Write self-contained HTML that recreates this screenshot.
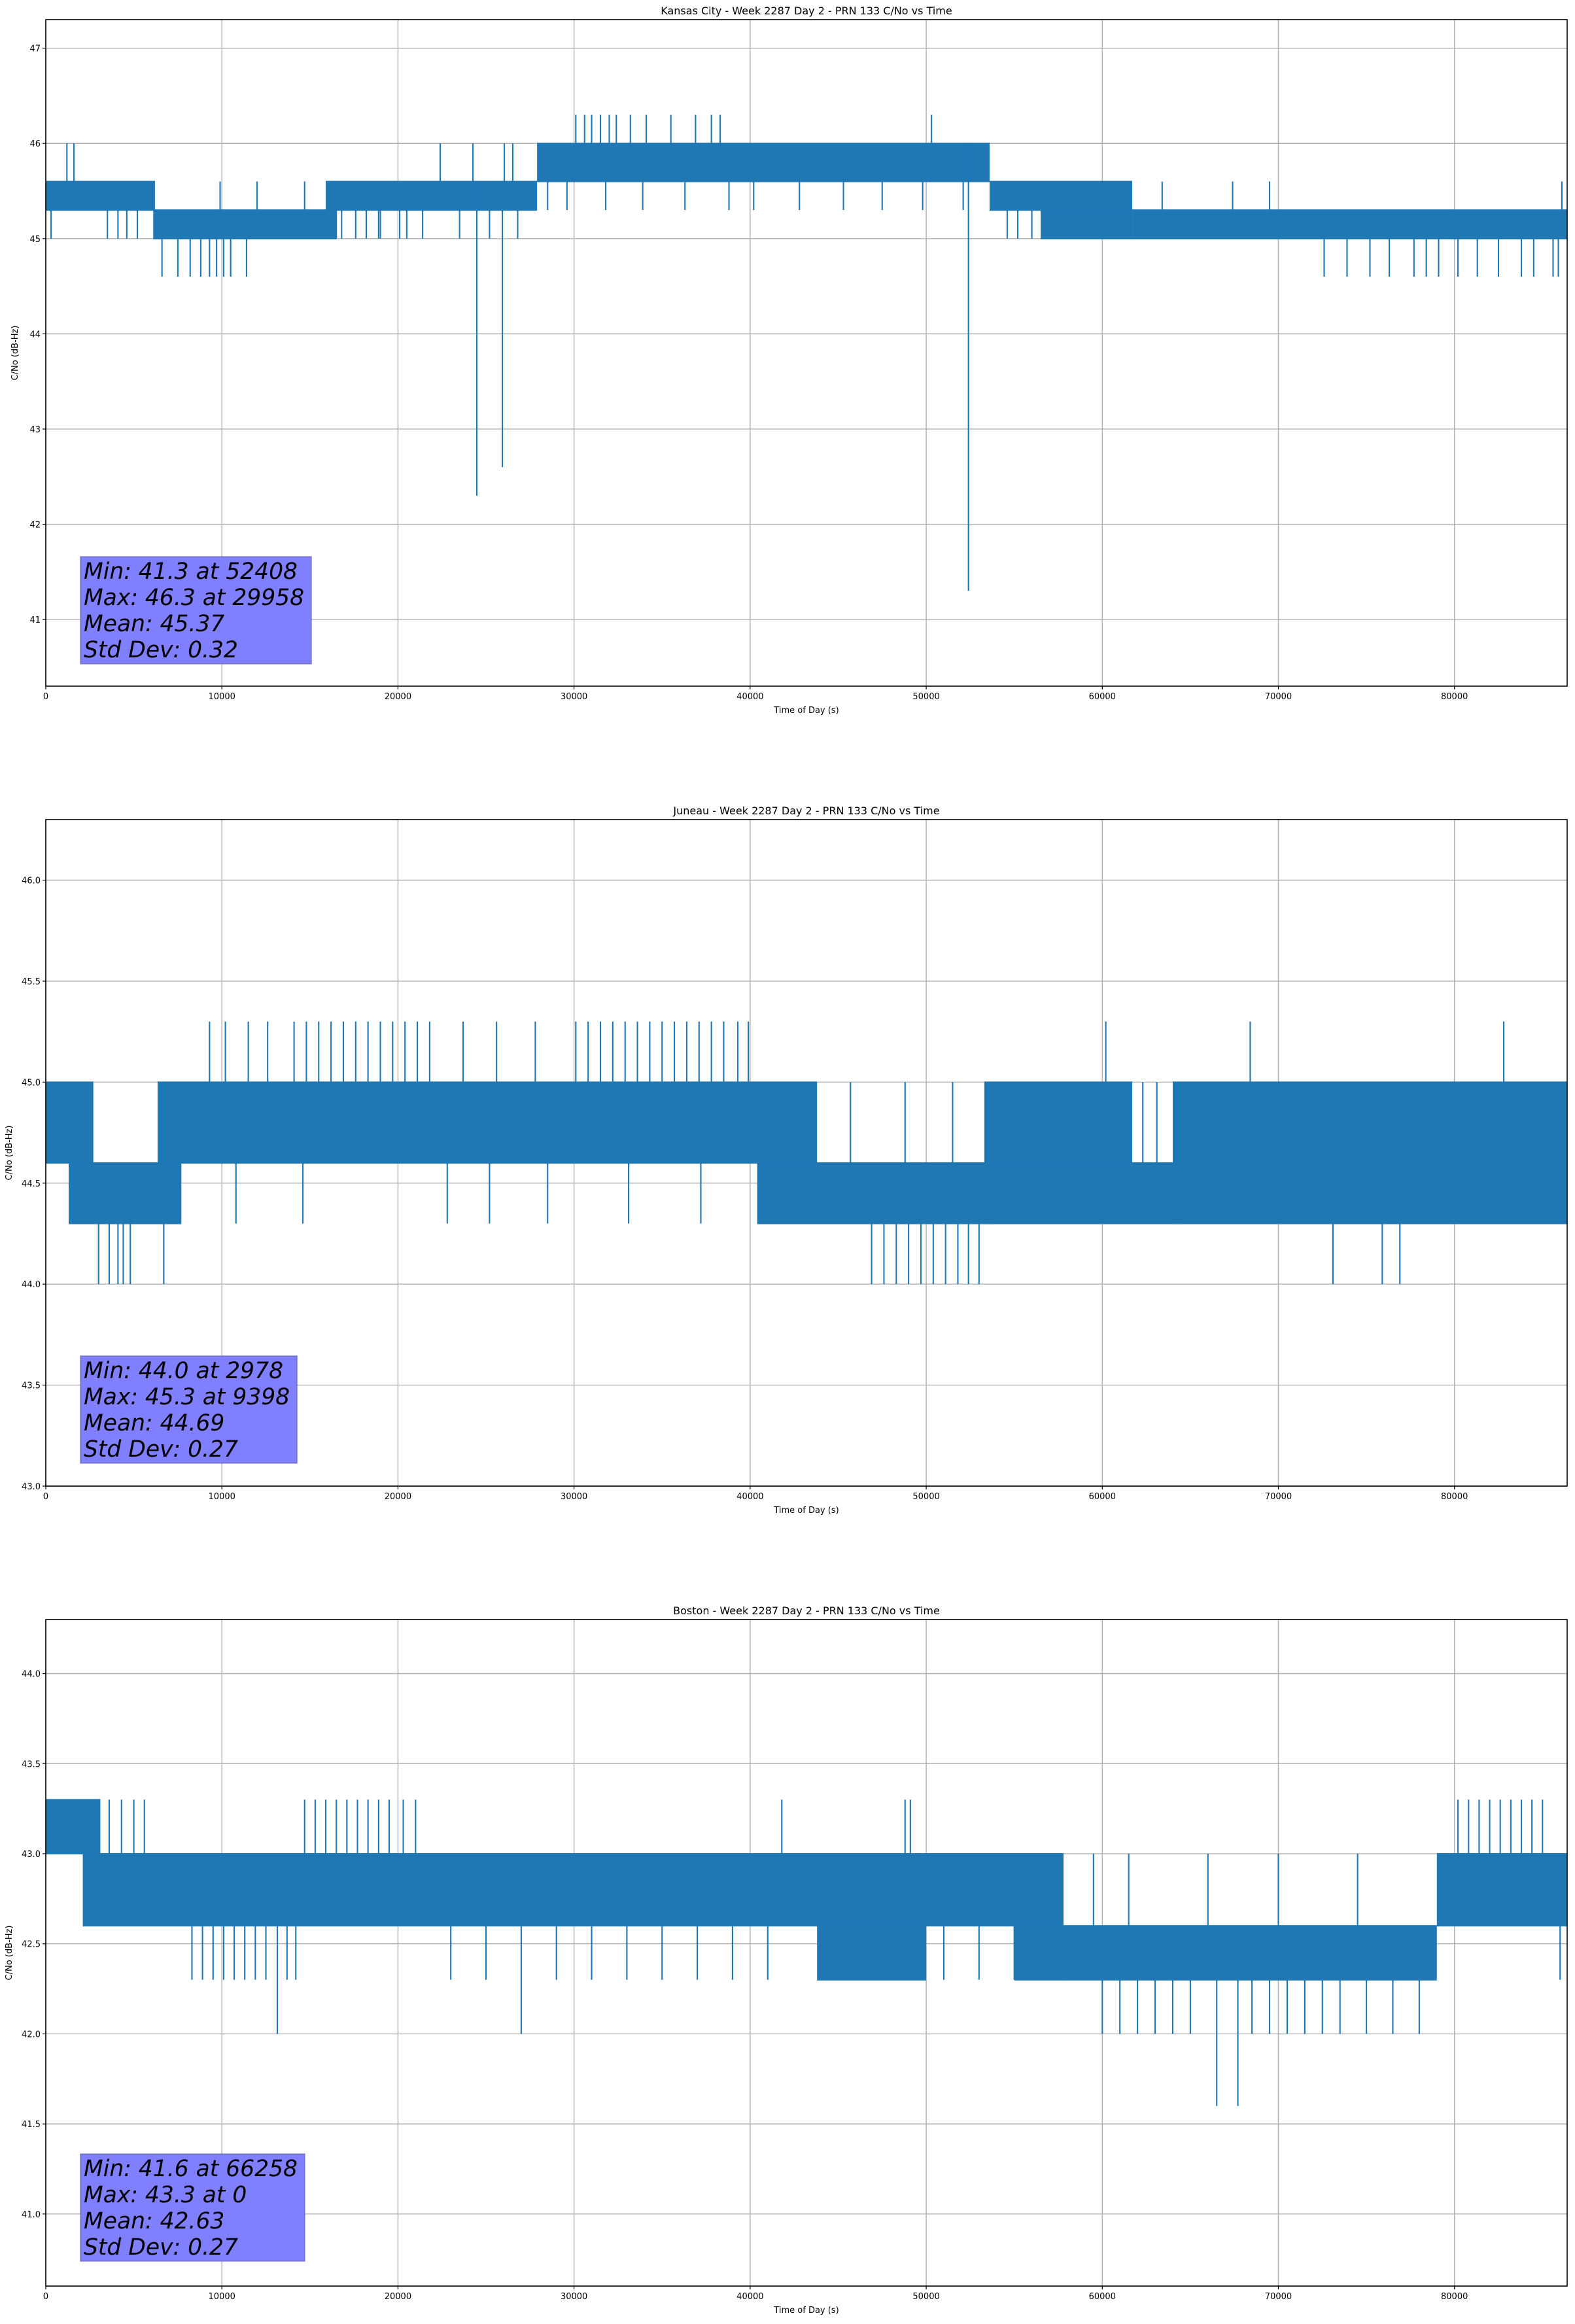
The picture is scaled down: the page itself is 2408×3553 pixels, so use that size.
<!DOCTYPE html>
<html><head><meta charset="utf-8"><style>
html,body{margin:0;padding:0;background:#fff;}
svg text{font-family:"DejaVu Sans","Liberation Sans",sans-serif;}
</style></head><body>
<svg id="fig" xmlns="http://www.w3.org/2000/svg" width="2408" height="3548" viewBox="0 0 2408 3548"></svg>
<script>
// ---------- Kansas City ----------
const kcBandStart=[0,6100,15900,27900,53600,56500,61700];
const kcBandEnd  =[6200,16500,27900,53600,61700,61700,86400];
const kcBandLo   =[45.3,45.0,45.3,45.6,45.3,45.0,45.0];
const kcBandHi   =[45.6,45.3,45.6,46.0,45.6,45.3,45.3];
const kcSpikeT =[1200,1600,300,3500,4100,4600,5200,6600,7500,8200,8800,9300,9700,10100,10500,11400,9900,12000,14700,16500,18200,19000,20500,22400,24260,24480,25930,26040,26520,16800,17600,18900,20100,21400,23500,25200,26800,30100,30600,31000,31500,32000,32400,33200,34100,35500,36900,37800,38300,50300,52400,28500,29600,31800,33900,36300,38800,40200,42800,45300,47500,49800,52100,54600,55200,56000,57300,58200,59100,60400,61200,63400,67400,69500,72600,73900,75200,76300,77700,78400,79100,80200,81300,82500,83800,84500,85600,85900,86100];
const kcSpikeLo=[45.3,45.3,45.0,45.0,45.0,45.0,45.0,44.6,44.6,44.6,44.6,44.6,44.6,44.6,44.6,44.6,45.3,45.3,45.3,45.0,45.0,45.0,45.0,45.6,45.6,42.3,42.6,45.6,45.6,45.0,45.0,45.0,45.0,45.0,45.0,45.0,45.0,46.0,46.0,46.0,46.0,46.0,46.0,46.0,46.0,46.0,46.0,46.0,46.0,46.0,41.3,45.3,45.3,45.3,45.3,45.3,45.3,45.3,45.3,45.3,45.3,45.3,45.3,45.0,45.0,45.0,45.0,45.0,45.0,45.0,45.0,45.3,45.3,45.3,44.6,44.6,44.6,44.6,44.6,44.6,44.6,44.6,44.6,44.6,44.6,44.6,44.6,44.6,45.3,45.3];
const kcSpikeHi=[46.0,46.0,45.3,45.3,45.3,45.3,45.3,45.0,45.0,45.0,45.0,45.0,45.0,45.0,45.0,45.0,45.6,45.6,45.6,45.3,45.3,45.3,45.3,46.0,46.0,45.6,45.6,46.0,46.0,45.3,45.3,45.3,45.3,45.3,45.3,45.3,45.3,46.3,46.3,46.3,46.3,46.3,46.3,46.3,46.3,46.3,46.3,46.3,46.3,46.3,46.0,45.6,45.6,45.6,45.6,45.6,45.6,45.6,45.6,45.6,45.6,45.6,45.6,45.3,45.3,45.3,45.3,45.3,45.3,45.3,45.3,45.6,45.6,45.6,45.0,45.0,45.0,45.0,45.0,45.0,45.0,45.0,45.0,45.0,45.0,45.0,45.0,45.0,45.6,45.6];
const kcTicksY=[41,42,43,44,45,46,47];
const kcStats=["Min: 41.3 at 52408","Max: 46.3 at 29958","Mean: 45.37","Std Dev: 0.32"];

// ---------- Juneau ----------
const juBandStart=[0,1300,6350,40400,53300,53300,64000];
const juBandEnd  =[2700,7700,43800,53900,61700,64500,86400];
const juBandLo   =[44.6,44.3,44.6,44.3,44.6,44.3,44.3];
const juBandHi   =[45.0,44.6,45.0,44.6,45.0,44.6,45.0];
const juSpikeT =[3000,3600,4100,4400,4800,6700,14100,14800,15500,16200,16900,17600,18300,19000,19700,20400,21100,21800,9300,10200,11500,12600,23700,25600,27800,30100,30800,31500,32200,32900,33600,34300,35000,35700,36400,37100,37800,38500,39300,39900,46900,47600,48300,49000,49700,50400,51100,51800,52400,53000,60200,68400,82800,73100,75900,76900,45700,48800,51500,10800,14600,22800,25200,28500,33100,37200,41200,62300,63100];
const juSpikeLo=[44.0,44.0,44.0,44.0,44.0,44.0,45.0,45.0,45.0,45.0,45.0,45.0,45.0,45.0,45.0,45.0,45.0,45.0,45.0,45.0,45.0,45.0,45.0,45.0,45.0,45.0,45.0,45.0,45.0,45.0,45.0,45.0,45.0,45.0,45.0,45.0,45.0,45.0,45.0,45.0,44.0,44.0,44.0,44.0,44.0,44.0,44.0,44.0,44.0,44.0,45.0,45.0,45.0,44.0,44.0,44.0,44.6,44.6,44.6,44.3,44.3,44.3,44.3,44.3,44.3,44.3,44.3,44.6,44.6];
const juSpikeHi=[44.3,44.3,44.3,44.3,44.3,44.3,45.3,45.3,45.3,45.3,45.3,45.3,45.3,45.3,45.3,45.3,45.3,45.3,45.3,45.3,45.3,45.3,45.3,45.3,45.3,45.3,45.3,45.3,45.3,45.3,45.3,45.3,45.3,45.3,45.3,45.3,45.3,45.3,45.3,45.3,44.3,44.3,44.3,44.3,44.3,44.3,44.3,44.3,44.3,44.3,45.3,45.3,45.3,44.3,44.3,44.3,45.0,45.0,45.0,44.6,44.6,44.6,44.6,44.6,44.6,44.6,44.6,45.0,45.0];
const juTicksY=[43.0,43.5,44.0,44.5,45.0,45.5,46.0];
const juStats=["Min: 44.0 at 2978","Max: 45.3 at 9398","Mean: 44.69","Std Dev: 0.27"];

// ---------- Boston ----------
const boBandStart=[0,2100,43800,55000,57800,79000];
const boBandEnd  =[3100,57800,50000,57800,79000,86400];
const boBandLo   =[43.0,42.6,42.3,42.3,42.3,42.6];
const boBandHi   =[43.3,43.0,42.6,42.6,42.6,43.0];
const boSpikeT =[3600,4300,5000,5600,8300,8900,9500,10100,10700,11300,11900,12500,13150,13700,14200,14700,15300,15900,16500,17100,17700,18300,18900,19500,20300,21000,23000,25000,27000,29000,31000,33000,35000,37000,39000,41000,41800,48800,49100,51000,53000,55000,60000,61000,62000,63000,64000,65000,66500,67700,68500,69500,70500,71500,72500,73500,75000,76500,78000,59500,61500,66000,70000,74500,80200,80800,81400,82000,82600,83200,83800,84400,85000,86000];
const boSpikeLo=[43.0,43.0,43.0,43.0,42.3,42.3,42.3,42.3,42.3,42.3,42.3,42.3,42.0,42.3,42.3,43.0,43.0,43.0,43.0,43.0,43.0,43.0,43.0,43.0,43.0,43.0,42.3,42.3,42.0,42.3,42.3,42.3,42.3,42.3,42.3,42.3,43.0,43.0,43.0,42.3,42.3,42.3,42.0,42.0,42.0,42.0,42.0,42.0,41.6,41.6,42.0,42.0,42.0,42.0,42.0,42.0,42.0,42.0,42.0,42.6,42.6,42.6,42.6,42.6,43.0,43.0,43.0,43.0,43.0,43.0,43.0,43.0,43.0,42.3];
const boSpikeHi=[43.3,43.3,43.3,43.3,42.6,42.6,42.6,42.6,42.6,42.6,42.6,42.6,42.6,42.6,42.6,43.3,43.3,43.3,43.3,43.3,43.3,43.3,43.3,43.3,43.3,43.3,42.6,42.6,42.6,42.6,42.6,42.6,42.6,42.6,42.6,42.6,43.3,43.3,43.3,42.6,42.6,42.6,42.3,42.3,42.3,42.3,42.3,42.3,42.3,42.3,42.3,42.3,42.3,42.3,42.3,42.3,42.3,42.3,42.3,43.0,43.0,43.0,43.0,43.0,43.3,43.3,43.3,43.3,43.3,43.3,43.3,43.3,43.3,42.6];
const boTicksY=[41.0,41.5,42.0,42.5,43.0,43.5,44.0];
const boStats=["Min: 41.6 at 66258","Max: 43.3 at 0","Mean: 42.63","Std Dev: 0.27"];

const xTicks=[0,10000,20000,30000,40000,50000,60000,70000,80000];

const NS="http://www.w3.org/2000/svg";
const svg=document.getElementById('fig');
function mk(tag,attrs,parent){const e=document.createElementNS(NS,tag);for(const k in attrs)e.setAttribute(k,attrs[k]);(parent||svg).appendChild(e);return e;}

const L=70,R=2396,H=1019;
function drawChart(o){
  const top=o.top,bot=top+H;
  const g=mk('g',{});
  
  
  const xs=t=>L+(t-0)/(86400)*(R-L);
  const ys=v=>bot-(v-o.ymin)/(o.ymax-o.ymin)*H;
  xTicks.forEach(t=>{const l=mk('line',{x1:xs(t),x2:xs(t),y1:top,y2:bot,stroke:'#b0b0b0','stroke-width':1.4},g);
    });
  o.ticksY.forEach(v=>{const l=mk('line',{x1:L,x2:R,y1:ys(v),y2:ys(v),stroke:'#b0b0b0','stroke-width':1.4},g);
    });
  for(let i=0;i<o.bs.length;i++){
    const r=mk('rect',{x:xs(o.bs[i]),y:ys(o.bh[i])-1,width:Math.max(1,xs(o.be[i])-xs(o.bs[i])),height:ys(o.bl[i])-ys(o.bh[i])+2,fill:'#1f77b4'},g);
    
  }
  for(let i=0;i<o.st.length;i++){
    const l=mk('line',{x1:xs(o.st[i]),x2:xs(o.st[i]),y1:ys(o.sh[i]),y2:ys(o.sl[i]),stroke:'#1f77b4','stroke-width':2.1},g);
    
  }
  const sp=mk('rect',{x:L,y:top,width:R-L,height:H,fill:'none',stroke:'#000','stroke-width':1.6},g);
  
  xTicks.forEach(t=>{
    mk('line',{x1:xs(t),x2:xs(t),y1:bot,y2:bot+5,stroke:'#000','stroke-width':1.2},g);
    const tx=mk('text',{x:xs(t),y:bot+20,'font-size':13,'text-anchor':'middle',fill:'#000'},g);
    tx.textContent=String(t);
    
  });
  o.ticksY.forEach(v=>{
    mk('line',{x1:L-5,x2:L,y1:ys(v),y2:ys(v),stroke:'#000','stroke-width':1.2},g);
    const tx=mk('text',{x:L-8,y:ys(v)+5,'font-size':13,'text-anchor':'end',fill:'#000'},g);
    tx.textContent=o.dec?v.toFixed(1):String(v);
    
  });
  const xl=mk('text',{x:(L+R)/2,y:bot+41,'font-size':13,'text-anchor':'middle',fill:'#000'},g);
  xl.textContent='Time of Day (s)';
  
  const yl=mk('text',{x:0,y:0,'font-size':13,'text-anchor':'middle',fill:'#000',transform:`translate(${o.ylx},${top+H/2}) rotate(-90)`},g);
  yl.textContent='C/No (dB-Hz)';
  
  const ti=mk('text',{x:(L+R)/2,y:top-8,'font-size':16,'text-anchor':'middle',fill:'#000'},g);
  ti.textContent=o.title;
  
  const bx=123,bb=o.boxBottom,btop=bb-164;
  const box=mk('rect',{x:bx,y:btop,width:10,height:164,fill:'#8080ff',stroke:'#5a5a9a','stroke-width':1.5,'stroke-opacity':0.6},g);
  
  let maxw=0;
  o.stats.forEach((s,i)=>{
    const t=mk('text',{x:bx+5,y:btop+34+i*40,'font-size':34.5,'font-style':'italic',fill:'#000'},g);
    t.textContent=s;
    
    maxw=Math.max(maxw,t.getComputedTextLength());
  });
  box.setAttribute('width',maxw+16);
}
drawChart({name:'kansas-city',top:30,ymin:40.3,ymax:47.3,ticksY:kcTicksY,dec:false,ylx:27,title:'Kansas City - Week 2287 Day 2 - PRN 133 C/No vs Time',
  bs:kcBandStart,be:kcBandEnd,bl:kcBandLo,bh:kcBandHi,st:kcSpikeT,sl:kcSpikeLo,sh:kcSpikeHi,stats:kcStats,boxBottom:1015});
drawChart({name:'juneau',top:1253,ymin:43.0,ymax:46.3,ticksY:juTicksY,dec:true,ylx:18,title:'Juneau - Week 2287 Day 2 - PRN 133 C/No vs Time',
  bs:juBandStart,be:juBandEnd,bl:juBandLo,bh:juBandHi,st:juSpikeT,sl:juSpikeLo,sh:juSpikeHi,stats:juStats,boxBottom:2237});
drawChart({name:'boston',top:2476,ymin:40.6,ymax:44.3,ticksY:boTicksY,dec:true,ylx:18,title:'Boston - Week 2287 Day 2 - PRN 133 C/No vs Time',
  bs:boBandStart,be:boBandEnd,bl:boBandLo,bh:boBandHi,st:boSpikeT,sl:boSpikeLo,sh:boSpikeHi,stats:boStats,boxBottom:3457});
</script>
</body></html>
